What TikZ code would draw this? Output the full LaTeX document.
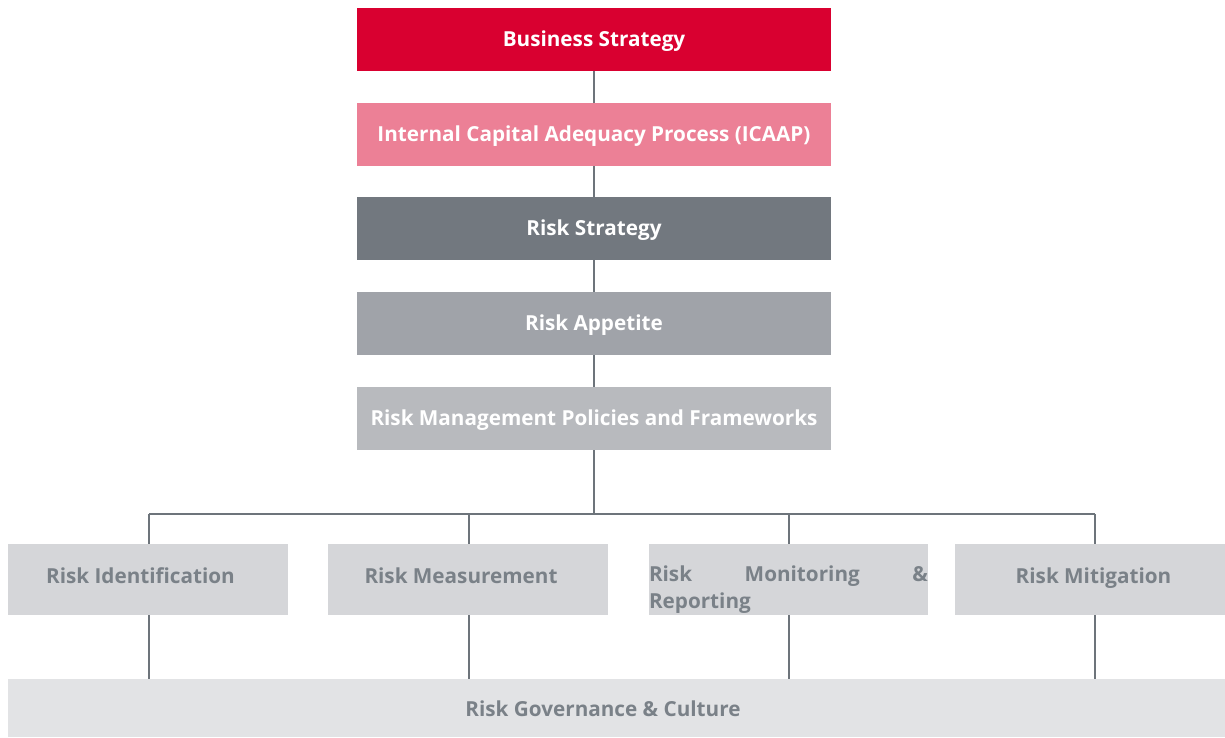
\documentclass[tikz,border=0pt]{standalone}
\usepackage{fontspec}
\setmainfont{Open Sans}
\definecolor{cRed}{HTML}{D90030}
\definecolor{cPink}{HTML}{EC8096}
\definecolor{cDark}{HTML}{72787F}
\definecolor{cMid}{HTML}{A0A3A9}
\definecolor{cLight}{HTML}{B8BABE}
\definecolor{cBox}{HTML}{D5D6D9}
\definecolor{cGov}{HTML}{E2E3E5}
\definecolor{cText}{HTML}{7A8188}
\definecolor{cLine}{HTML}{6D747B}
\begin{document}
\begin{tikzpicture}[x=1pt,y=-1pt,
  topbox/.style={draw=none, inner sep=0pt, minimum width=474pt, minimum height=63pt, text=white, text height=16pt, text depth=2pt, font=\fontsize{20.7}{24}\selectfont\bfseries},
  lowbox/.style={draw=none, fill=cBox, inner sep=0pt, minimum height=71pt},
  lbl/.style={inner sep=0pt, text=cText, font=\fontsize{20.7}{27}\selectfont\bfseries},
  lbls/.style={lbl, text height=15pt, text depth=4pt},
  conn/.style={draw=cLine, line width=1.6pt}]
\useasboundingbox (0,0) rectangle (1225,737);
\node[topbox, fill=cRed]   (bs)    at (594,39.5)  {Business Strategy};
\node[topbox, fill=cPink]  (icaap) at (594,134.5) {Internal Capital Adequacy Process (ICAAP)};
\node[topbox, fill=cDark]  (rs)    at (594,228.5) {Risk Strategy};
\node[topbox, fill=cMid]   (ra)    at (594,323.5) {Risk Appetite};
\node[topbox, fill=cLight] (rmp)   at (594,418.5) {Risk Management Policies and Frameworks};
\node[lowbox, minimum width=280pt,
  label={[lbls, xshift=-7.5pt, yshift=2pt]center:Risk Identification}] (ri) at (148,579.5) {};
\node[lowbox, minimum width=280pt,
  label={[lbls, xshift=-7pt, yshift=2pt]center:Risk Measurement}] (rm) at (468,579.5) {};
\node[lowbox, minimum width=279pt,
  label={[lbl, text width=279pt, align=left, yshift=-10pt]center:{\hbox to 279pt{Risk\hfill Monitoring\hfill\&}\\Reporting}}] (rmr) at (788.5,579.5) {};
\node[lowbox, minimum width=270pt,
  label={[lbls, xshift=3.5pt, yshift=2pt]center:Risk Mitigation}] (rmit) at (1090,579.5) {};
\node[lowbox, fill=cGov, minimum width=1217pt, minimum height=58pt,
  label={[lbls, xshift=-13.5pt, yshift=-3pt]center:Risk Governance \& Culture}] (gov) at (616.5,708) {};
\coordinate (bus) at (594,514);
\coordinate (b1) at (149,514);
\coordinate (b2) at (469,514);
\coordinate (b3) at (789,514);
\coordinate (b4) at (1095,514);
\draw[conn] (bs) -- (icaap);
\draw[conn] (icaap) -- (rs);
\draw[conn] (rs) -- (ra);
\draw[conn] (ra) -- (rmp);
\draw[conn] (rmp) -- (bus);
\draw[conn] (b1) -- (b4);
\draw[conn] (b1) -- (b1 |- ri.north);
\draw[conn] (b2) -- (b2 |- rm.north);
\draw[conn] (b3) -- (b3 |- rmr.north);
\draw[conn] (b4) -- (b4 |- rmit.north);
\draw[conn] (b1 |- ri.south) -- (b1 |- gov.north);
\draw[conn] (b2 |- rm.south) -- (b2 |- gov.north);
\draw[conn] (b3 |- rmr.south) -- (b3 |- gov.north);
\draw[conn] (b4 |- rmit.south) -- (b4 |- gov.north);
\end{tikzpicture}
\end{document}
